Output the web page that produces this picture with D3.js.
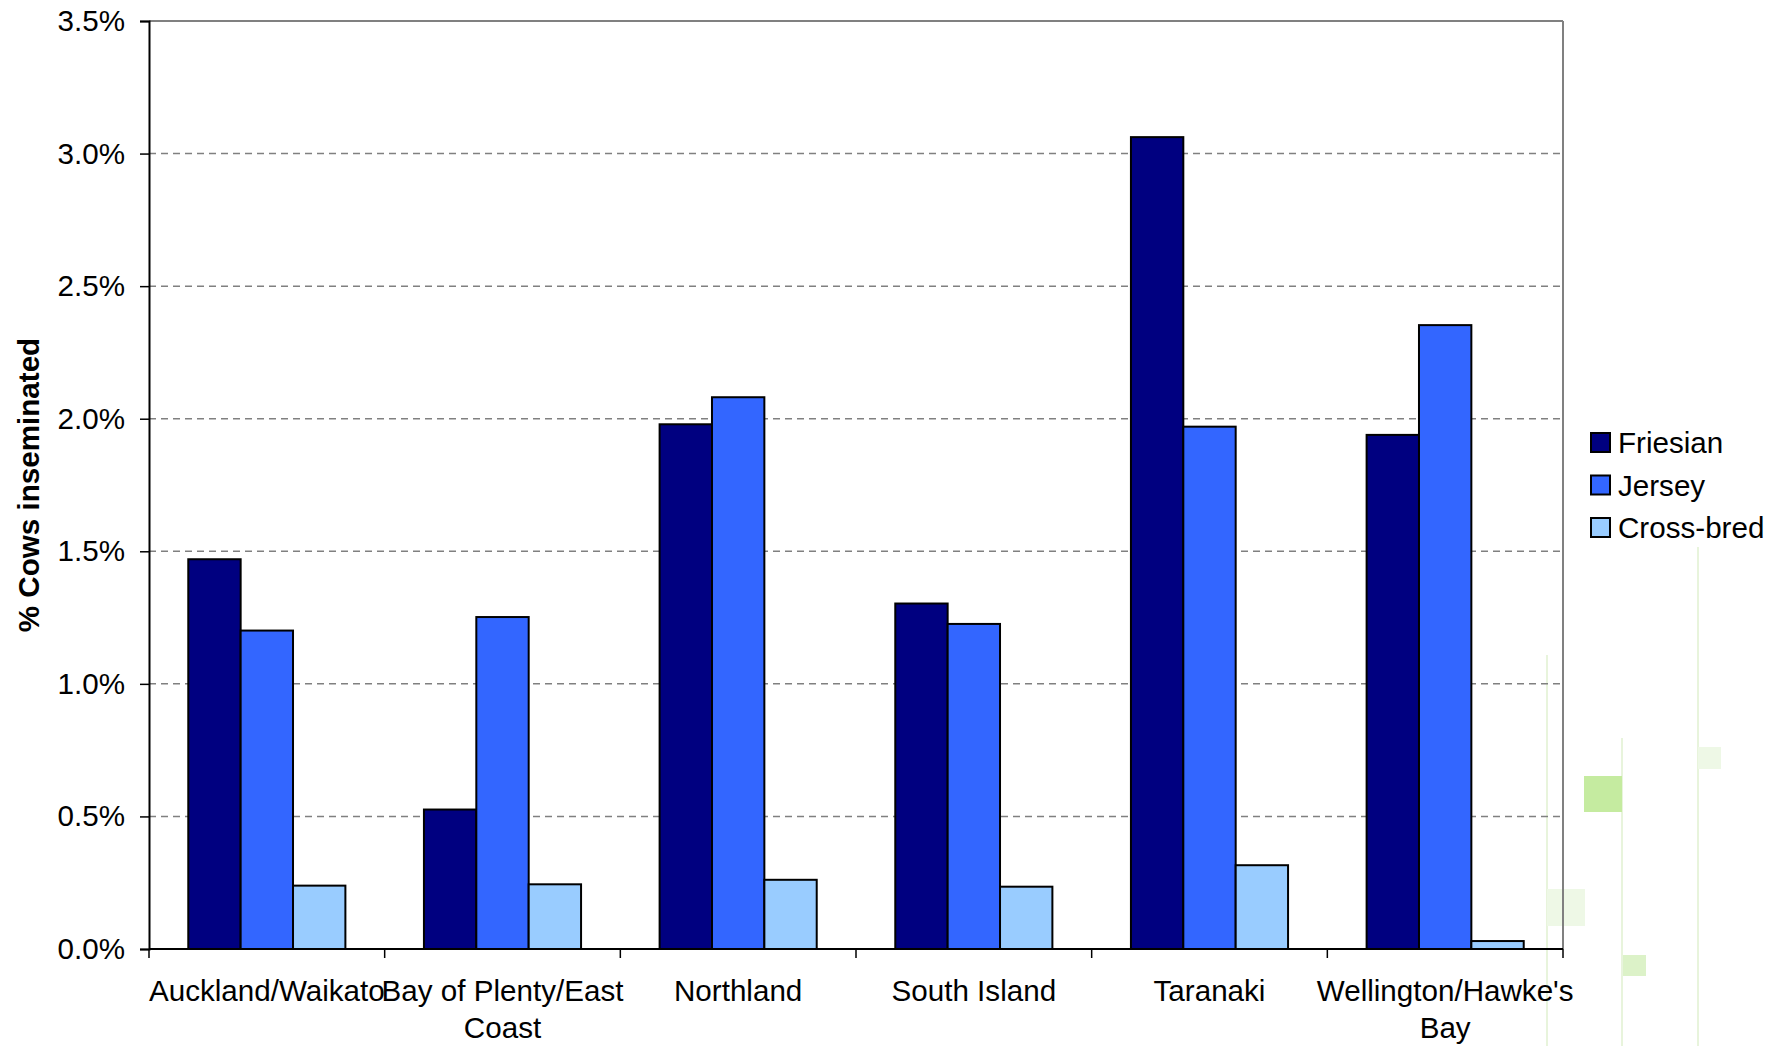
<!DOCTYPE html>
<html>
<head>
<meta charset="utf-8">
<script src="https://cdn.jsdelivr.net/npm/d3@7"></script>
<style>
  html, body { margin: 0; padding: 0; background: #fff; }
  svg { display: block; }
  text { font-family: "Liberation Sans", Arial, sans-serif; fill: #000; }
</style>
</head>
<body>
<svg id="chart" width="1780" height="1046"></svg>
<script>
// Regions (second line of a label after "|")
const regions = ["Auckland/Waikato", "Bay of Plenty/East|Coast", "Northland", "South Island", "Taranaki", "Wellington/Hawke's|Bay"];
const breeds = ["Friesian", "Jersey", "Cross-bred"];
const breedColors = ["#000080", "#3366FF", "#99CCFF"];

// % of cows inseminated, per region
const friesian  = [1.470, 0.526, 1.979, 1.303, 3.062, 1.939];
const jersey    = [1.201, 1.252, 2.081, 1.226, 1.970, 2.353];
const crossBred = [0.239, 0.244, 0.261, 0.235, 0.316, 0.030];

const yTicks = [0, 0.5, 1.0, 1.5, 2.0, 2.5, 3.0, 3.5];

const series = [friesian, jersey, crossBred];

const svg = d3.select("#chart");
const L = 149, R = 1563, T = 21, B = 949;
const FS = 29.6;

// faint green decoration at the right margin (drawn underneath everything)
const deco = svg.append("g");
[[1547, 655], [1622, 738], [1698, 547]].forEach(([lx, ly]) => {
  deco.append("line").attr("x1", lx).attr("x2", lx).attr("y1", ly).attr("y2", 1046)
    .attr("stroke", "#e8f4dc").attr("stroke-width", 2);
});
[[1584, 776, 38, 36, "#c5eba0"], [1698, 747, 23, 22, "#eef8e6"],
 [1547, 889, 38, 37, "#eef8e6"], [1623, 955, 23, 21, "#dcf2c8"]].forEach(([rx, ry, w, h, c]) => {
  deco.append("rect").attr("x", rx).attr("y", ry).attr("width", w).attr("height", h).attr("fill", c);
});

const x = d3.scaleBand().domain(regions).range([L, R]).padding(0);
const bw = x.bandwidth();
const barW = bw / 4.5;                 // three bars plus 150% gap
const xs = d3.scaleBand().domain(breeds).range([0.75 * barW, 3.75 * barW]).padding(0);
const y = d3.scaleLinear().domain([0, 3.5]).range([B, T]);

// dashed gridlines
svg.append("g").selectAll("line")
  .data(yTicks.filter(t => t > 0 && t < 3.5))
  .join("line")
  .attr("x1", L).attr("x2", R)
  .attr("y1", d => y(d)).attr("y2", d => y(d))
  .attr("stroke", "#808080").attr("stroke-width", 1.5)
  .attr("stroke-dasharray", "7,5");

// plot frame: top and right in grey
svg.append("line").attr("x1", L).attr("x2", R).attr("y1", T).attr("y2", T)
  .attr("stroke", "#808080").attr("stroke-width", 2);
svg.append("line").attr("x1", R).attr("x2", R).attr("y1", T).attr("y2", B)
  .attr("stroke", "#808080").attr("stroke-width", 2);

// bars
breeds.forEach((b, i) => {
  svg.append("g").selectAll("rect")
    .data(regions.map((r, j) => ({ r, v: series[i][j] })))
    .join("rect")
    .attr("x", d => x(d.r) + xs(b))
    .attr("width", xs.bandwidth())
    .attr("y", d => y(d.v))
    .attr("height", d => B - y(d.v))
    .attr("fill", breedColors[i])
    .attr("stroke", "#000").attr("stroke-width", 2);
});

// y axis
const yAxis = d3.axisLeft(y).tickValues(yTicks)
  .tickFormat(d => d.toFixed(1) + "%").tickSize(9).tickPadding(15);
const gy = svg.append("g").attr("transform", `translate(${L},0)`).call(yAxis);
gy.select(".domain").attr("stroke", "#000").attr("stroke-width", 2);
gy.selectAll(".tick line").attr("stroke", "#000").attr("stroke-width", 1.5);
gy.selectAll(".tick text").attr("font-size", FS).attr("font-family", "Liberation Sans, Arial, sans-serif").attr("fill", "#000");

// x axis: ticks at region boundaries
const gx = svg.append("g").attr("transform", `translate(0,${B})`);
gx.append("line").attr("x1", L).attr("x2", R).attr("stroke", "#000").attr("stroke-width", 2);
gx.selectAll("line.tk")
  .data(regions.map(r => x(r)).concat([R]))
  .join("line").attr("class", "tk")
  .attr("x1", d => d).attr("x2", d => d).attr("y1", 0).attr("y2", 9)
  .attr("stroke", "#000").attr("stroke-width", 1.5);
gx.selectAll("text.cat")
  .data(regions)
  .join("text").attr("class", "cat")
  .attr("text-anchor", "middle")
  .attr("font-size", FS)
  .attr("x", d => x(d) + bw / 2)
  .attr("y", 52)
  .each(function (d) {
    const parts = d.split("|");
    d3.select(this).selectAll("tspan").data(parts).join("tspan")
      .attr("x", x(d) + bw / 2)
      .attr("dy", (p, k) => k === 0 ? 0 : 36.5)
      .text(p => p);
  });

// y axis title
svg.append("text")
  .attr("transform", `translate(39,${(T + B) / 2}) rotate(-90)`)
  .attr("text-anchor", "middle")
  .attr("font-size", FS).attr("font-weight", "bold")
  .text("% Cows inseminated");

// legend
const lg = svg.append("g").attr("transform", "translate(1591,433)");
breeds.forEach((b, i) => {
  const g = lg.append("g").attr("transform", `translate(0,${i * 42.5})`);
  g.append("rect").attr("width", 19).attr("height", 19)
    .attr("fill", breedColors[i]).attr("stroke", "#000").attr("stroke-width", 2);
  g.append("text").attr("x", 27).attr("y", 20).attr("font-size", FS).text(b);
});
</script>
</body>
</html>
